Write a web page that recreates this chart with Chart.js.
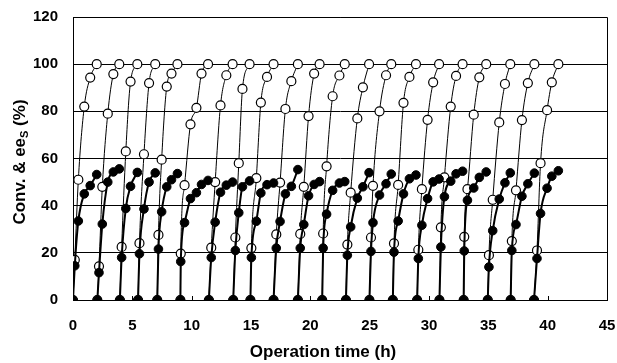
<!DOCTYPE html>
<html>
<head>
<meta charset="utf-8">
<script src="https://cdn.jsdelivr.net/npm/chart.js@4.4.0/dist/chart.umd.min.js"></script>
<style>
  html, body { margin: 0; padding: 0; background: #fff; }
  #wrap { width: 617px; height: 363px; }
</style>
</head>
<body>
<div id="wrap"><canvas id="chart" width="617" height="363"></canvas></div>
<script>
// start of each repeated batch (h)
const cycleStart = [0, 2.05, 3.95, 5.48, 7.1, 9.05, 11.45, 13.5, 14.95, 16.9, 18.95,
                    21.0, 23.0, 24.98, 26.95, 29.0, 30.88, 32.92, 34.95, 36.88, 38.85];

// sampling times inside each batch (h after its start)
const sampleOffsets = [
  [0, 0.15, 0.45, 0.95, 1.45, 2.0],
  [0, 0.14, 0.42, 0.88, 1.35, 1.85],
  [0, 0.15, 0.5, 0.9, 1.47],
  [0, 0.12, 0.5, 0.93, 1.45],
  [0, 0.1, 0.37, 0.8, 1.2, 1.7],
  [0, 0.03, 0.35, 0.85, 1.35, 1.78, 2.33],
  [0, 0.2, 0.53, 0.98, 1.47, 2.0],
  [0, 0.18, 0.47, 0.78, 1.38],
  [0, 0.08, 0.5, 0.88, 1.4, 1.95],
  [0, 0.23, 0.55, 1.0, 1.5, 2.05],
  [0, 0.2, 0.5, 0.9, 1.37, 1.83],
  [0, 0.08, 0.37, 0.88, 1.45, 1.9],
  [0, 0.12, 0.4, 0.96, 1.43, 1.95],
  [0, 0.13, 0.3, 0.85, 1.4, 1.84],
  [0, 0.1, 0.45, 0.9, 1.4, 1.95],
  [0, 0.1, 0.4, 0.88, 1.35, 1.85],
  [0, 0.12, 0.42, 0.95, 1.4, 1.95],
  [0, 0.05, 0.32, 0.85, 1.32, 1.9],
  [0, 0.1, 0.42, 0.97, 1.45, 1.9],
  [0, 0.1, 0.45, 0.95, 1.45, 2.0],
  [0, 0.25, 0.55, 1.1, 1.5, 2.05]
];

// conversion (%) - filled circles
const conversion = [
  [0, 14.5, 33.5, 45, 48.5, 53.2],
  [0, 11.6, 32.2, 50, 54.3, 55.6],
  [0, 18, 38.8, 48.2, 54.1],
  [0, 19.6, 38.6, 50, 53.9],
  [0, 21.6, 37.4, 48, 51, 53.6],
  [0, 16.3, 32.8, 43, 45.5, 49, 50.7],
  [0, 18, 33, 45.7, 48.7, 50],
  [0, 21, 37, 48, 50.5],
  [0, 18, 33.4, 45.4, 48.9, 49.6],
  [0, 22, 33.3, 45, 48.2, 55.3],
  [0, 22, 32, 44.2, 49, 50.2],
  [0, 22, 36.4, 46.5, 49.6, 50.2],
  [0, 19, 31, 43.2, 48, 54],
  [0, 20.6, 32.8, 44.5, 49.3, 53.4],
  [0, 20.3, 33.5, 45, 51.4, 53],
  [0, 17.6, 31.7, 43, 50.1, 51.3],
  [0, 22.5, 43.8, 50.4, 53.5, 54.6],
  [0, 20.8, 42.3, 47.5, 52, 54.3],
  [0, 14, 29.4, 42.8, 49.7, 53.9],
  [0, 21, 32, 44, 49.3, 53.8],
  [0, 17.6, 36.7, 47.4, 52.5, 54.8]
];

// ee of remaining substrate (%) - open circles
const eeS = [
  [0, 17, 51, 82, 94.3, 100],
  [0, 14.3, 48, 79, 95.8, 100],
  [0, 22.5, 63, 92.6, 100],
  [0, 24.1, 61.8, 92, 100],
  [0, 27.6, 59.5, 90.5, 96, 100],
  [0, 19.7, 48.7, 74.5, 81.5, 96, 100],
  [0, 22.2, 50, 82.5, 95.3, 100],
  [0, 26.5, 58, 89.5, 100],
  [0, 22, 51.7, 83.7, 94.6, 100],
  [0, 27.8, 49.8, 81, 92.8, 100],
  [0, 28, 48, 78, 96, 100],
  [0, 28.2, 56.7, 86.4, 95.2, 100],
  [0, 23.5, 45.5, 77, 90.2, 100],
  [0, 26.5, 48.4, 80, 95.3, 100],
  [0, 24, 48.8, 83.6, 94.6, 100],
  [0, 21.3, 47, 76.4, 92.3, 100],
  [0, 30.8, 52, 82, 95, 100],
  [0, 26.8, 47, 78.6, 94.4, 100],
  [0, 19, 42.5, 75.3, 91.6, 100],
  [0, 25, 46.5, 76.3, 92, 100],
  [0, 21, 58, 80.5, 92.3, 100]
];

const xTicks = [0, 5, 10, 15, 20, 25, 30, 35, 40, 45];
const yTicks = [0, 20, 40, 60, 80, 100, 120];

const FONT = '"Liberation Sans", Arial, sans-serif';

function cyclePoints(values, i) {
  return values[i].map((v, k) => ({ x: cycleStart[i] + sampleOffsets[i][k], y: v }));
}

const datasets = [];
cycleStart.forEach((_, i) => {
  datasets.push({
    label: 'Conv.',
    data: cyclePoints(conversion, i),
    order: 0,
    showLine: true,
    borderColor: '#000',
    borderWidth: 2,
    backgroundColor: '#000',
    pointBackgroundColor: '#000',
    pointBorderColor: '#000',
    pointBorderWidth: 1,
    pointRadius: 4.3,
    cubicInterpolationMode: 'monotone'
  });
  datasets.push({
    label: 'ees',
    data: cyclePoints(eeS, i),
    order: 1,
    showLine: true,
    borderColor: '#000',
    borderWidth: 1,
    backgroundColor: '#fff',
    pointBackgroundColor: '#fff',
    pointBorderColor: '#000',
    pointBorderWidth: 1.2,
    pointRadius: 4.5,
    cubicInterpolationMode: 'monotone'
  });
});

// plot frame, inner x tick marks and axis titles
const decorations = {
  id: 'decorations',
  beforeDatasetsDraw(chart) {
    const ctx = chart.ctx, a = chart.chartArea, xs = chart.scales.x;
    ctx.save();
    ctx.strokeStyle = '#000';
    ctx.lineWidth = 1;
    ctx.beginPath();
    ctx.moveTo(Math.round(a.left) + 0.5, Math.round(a.top) + 0.5);
    ctx.lineTo(Math.round(a.right) + 0.5, Math.round(a.top) + 0.5);
    ctx.lineTo(Math.round(a.right) + 0.5, Math.round(a.bottom) + 0.5);
    ctx.stroke();
    xTicks.forEach(v => {
      const px = Math.round(xs.getPixelForValue(v)) + 0.5;
      ctx.beginPath();
      ctx.moveTo(px, a.bottom);
      ctx.lineTo(px, a.bottom - 4);
      ctx.stroke();
    });
    ctx.restore();
  },
  afterDraw(chart) {
    const ctx = chart.ctx;
    ctx.save();
    ctx.fillStyle = '#000';
    ctx.font = 'bold 17px ' + FONT;
    ctx.textAlign = 'center';
    ctx.textBaseline = 'middle';
    ctx.fillText('Operation time (h)', 323, 352);

    ctx.translate(20, 162);
    ctx.rotate(-Math.PI / 2);
    const mainFont = 'bold 17px ' + FONT, subFont = 'bold 11px ' + FONT;
    const head = 'Conv. & ee', sub = 'S', tail = ' (%)';
    ctx.font = mainFont;
    const w1 = ctx.measureText(head).width, w3 = ctx.measureText(tail).width;
    ctx.font = subFont;
    const w2 = ctx.measureText(sub).width;
    let x = -(w1 + w2 + w3) / 2;
    ctx.textAlign = 'left';
    ctx.font = mainFont;
    ctx.fillText(head, x, 0);
    x += w1;
    ctx.font = subFont;
    ctx.fillText(sub, x, 5);
    x += w2;
    ctx.font = mainFont;
    ctx.fillText(tail, x, 0);
    ctx.restore();
  }
};

new Chart(document.getElementById('chart'), {
  type: 'scatter',
  data: { datasets },
  plugins: [decorations],
  options: {
    responsive: false,
    animation: false,
    devicePixelRatio: 1,
    layout: { padding: { left: 0, right: 10, top: 17, bottom: 0 } },
    plugins: { legend: { display: false }, tooltip: { enabled: false } },
    scales: {
      x: {
        type: 'linear',
        min: 0, max: 45,
        afterBuildTicks: s => { s.ticks = xTicks.map(v => ({ value: v })); },
        afterFit: s => { s.height = 63; s.paddingLeft = 0; s.paddingRight = 0; },
        grid: { display: false, drawTicks: false },
        border: { display: true, color: '#000', width: 1 },
        ticks: { color: '#000', padding: 17, maxRotation: 0, font: { family: FONT, size: 15, weight: 'bold' } }
      },
      y: {
        type: 'linear',
        min: 0, max: 120,
        afterBuildTicks: s => { s.ticks = yTicks.map(v => ({ value: v })); },
        afterFit: s => { s.width = 73; s.paddingTop = 0; s.paddingBottom = 0; },
        grid: { color: '#000', lineWidth: 1, drawTicks: false },
        border: { display: true, color: '#000', width: 1 },
        ticks: { color: '#000', padding: 15, font: { family: FONT, size: 15, weight: 'bold' } }
      }
    }
  }
});
</script>
</body>
</html>
